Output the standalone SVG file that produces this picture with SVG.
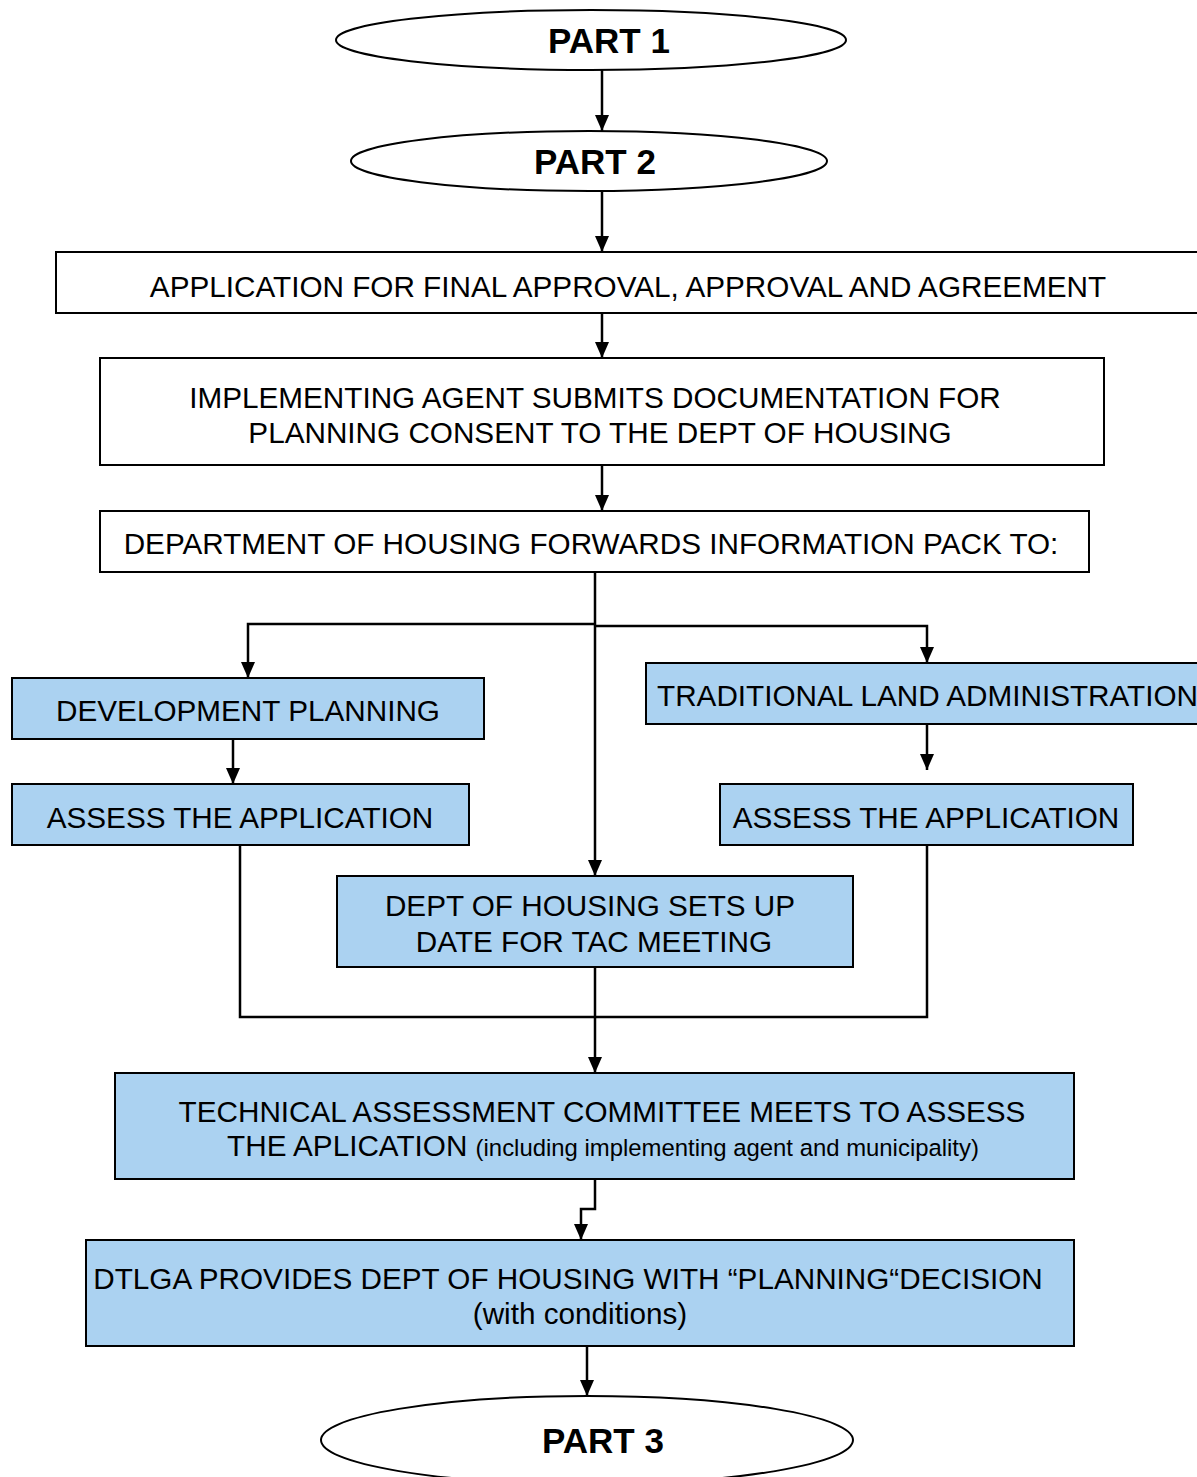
<svg xmlns="http://www.w3.org/2000/svg" width="1197" height="1477" viewBox="0 0 1197 1477">
<style>
.t{font-family:"Liberation Sans",Arial,sans-serif;font-size:29.7px;fill:#000;text-anchor:middle}
.b{font-family:"Liberation Sans",Arial,sans-serif;font-size:35px;font-weight:bold;fill:#000;text-anchor:middle}
.w{fill:#fff;stroke:#000;stroke-width:2}
.bl{fill:#abd2f1;stroke:#000;stroke-width:2}
.c{fill:none;stroke:#000;stroke-width:2.5}
</style>
<defs>
<marker id="a" markerUnits="userSpaceOnUse" markerWidth="16" markerHeight="14" viewBox="0 0 16 14" refX="16" refY="7" orient="auto">
<path d="M0,0 L16,7 L0,14 Z" fill="#000"/>
</marker>
</defs>
<rect width="1197" height="1477" fill="#fff"/>
<g id="part1"><ellipse class="w" cx="591" cy="40" rx="255" ry="30"/><text class="b" x="609" y="52.5">PART 1</text></g>
<g id="part2"><ellipse class="w" cx="589" cy="161" rx="238" ry="30"/><text class="b" x="595" y="174">PART 2</text></g>
<g id="application"><rect class="w" x="56" y="252" width="1150" height="61"/><text class="t" x="628" y="297">APPLICATION FOR FINAL APPROVAL, APPROVAL AND AGREEMENT</text></g>
<g id="implementing"><rect class="w" x="100" y="358" width="1004" height="107"/><text class="t" x="595" y="407.5">IMPLEMENTING AGENT SUBMITS DOCUMENTATION FOR</text><text class="t" x="600" y="443">PLANNING CONSENT TO THE DEPT OF HOUSING</text></g>
<g id="forwards"><rect class="w" x="100" y="511" width="989" height="61"/><text class="t" x="591" y="554">DEPARTMENT OF HOUSING FORWARDS INFORMATION PACK TO:</text></g>
<g id="devplanning"><rect class="bl" x="12" y="678" width="472" height="61"/><text class="t" x="248" y="721">DEVELOPMENT PLANNING</text></g>
<g id="traditional"><rect class="bl" x="646" y="663" width="560" height="61"/><text class="t" x="657" y="706" style="text-anchor:start">TRADITIONAL LAND ADMINISTRATION</text></g>
<g id="assessleft"><rect class="bl" x="12" y="784" width="457" height="61"/><text class="t" x="240" y="828">ASSESS THE APPLICATION</text></g>
<g id="assessright"><rect class="bl" x="720" y="784" width="413" height="61"/><text class="t" x="926" y="828">ASSESS THE APPLICATION</text></g>
<g id="tacdate"><rect class="bl" x="337" y="876" width="516" height="91"/><text class="t" x="590" y="916">DEPT OF HOUSING SETS UP</text><text class="t" x="594" y="952">DATE FOR TAC MEETING</text></g>
<g id="tac"><rect class="bl" x="115" y="1073" width="959" height="106"/><text class="t" x="602" y="1122">TECHNICAL ASSESSMENT COMMITTEE MEETS TO ASSESS</text><text class="t" x="603" y="1156">THE APLICATION <tspan style="font-size:23.9px">(including implementing agent and municipality)</tspan></text></g>
<g id="dtlga"><rect class="bl" x="86" y="1240" width="988" height="106"/><text class="t" x="568" y="1289">DTLGA PROVIDES DEPT OF HOUSING WITH “PLANNING“DECISION</text><text class="t" x="580" y="1324">(with conditions)</text></g>
<g id="part3"><ellipse class="w" cx="587" cy="1440" rx="266" ry="44"/><text class="b" x="603" y="1452.5">PART 3</text></g>
<g id="connectors">
<path class="c" d="M602,70 V131" marker-end="url(#a)"/>
<path class="c" d="M602,191 V252" marker-end="url(#a)"/>
<path class="c" d="M602,313 V358" marker-end="url(#a)"/>
<path class="c" d="M602,465 V511" marker-end="url(#a)"/>
<path class="c" d="M595,572 V876" marker-end="url(#a)"/>
<path class="c" d="M595,624 H248 V678" marker-end="url(#a)"/>
<path class="c" d="M595,626 H927 V663" marker-end="url(#a)"/>
<path class="c" d="M233,739 V784" marker-end="url(#a)"/>
<path class="c" d="M927,724 V770" marker-end="url(#a)"/>
<path class="c" d="M240,845 V1017 H927 V845"/>
<path class="c" d="M595,967 V1073" marker-end="url(#a)"/>
<path class="c" d="M595,1179 V1209 H581 V1240" marker-end="url(#a)"/>
<path class="c" d="M587,1346 V1396" marker-end="url(#a)"/>
</g>
</svg>
